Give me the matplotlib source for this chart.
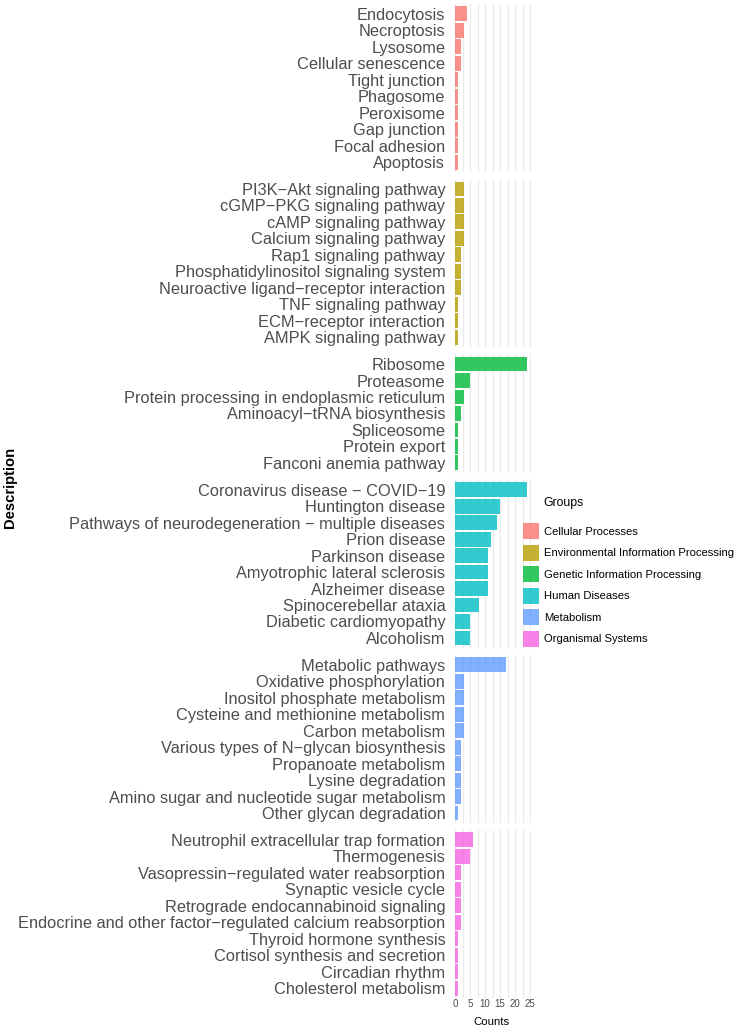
import matplotlib
matplotlib.use('Agg')
import matplotlib.pyplot as plt
from matplotlib.patches import Patch

plt.rcParams['font.family'] = ['Liberation Sans', 'DejaVu Sans']

# --- DATA ---
groups = ['Cellular Processes', 'Environmental Information Processing',
          'Genetic Information Processing', 'Human Diseases',
          'Metabolism', 'Organismal Systems']

cellular_terms = ['Endocytosis', 'Necroptosis', 'Lysosome', 'Cellular senescence',
                  'Tight junction', 'Phagosome', 'Peroxisome', 'Gap junction',
                  'Focal adhesion', 'Apoptosis']
cellular_counts = [4, 3, 2, 2, 1, 1, 1, 1, 1, 1]

environmental_terms = ['PI3K\u2212Akt signaling pathway', 'cGMP\u2212PKG signaling pathway',
                       'cAMP signaling pathway', 'Calcium signaling pathway',
                       'Rap1 signaling pathway', 'Phosphatidylinositol signaling system',
                       'Neuroactive ligand\u2212receptor interaction', 'TNF signaling pathway',
                       'ECM\u2212receptor interaction', 'AMPK signaling pathway']
environmental_counts = [3, 3, 3, 3, 2, 2, 2, 1, 1, 1]

genetic_terms = ['Ribosome', 'Proteasome', 'Protein processing in endoplasmic reticulum',
                 'Aminoacyl\u2212tRNA biosynthesis', 'Spliceosome', 'Protein export',
                 'Fanconi anemia pathway']
genetic_counts = [24, 5, 3, 2, 1, 1, 1]

human_terms = ['Coronavirus disease \u2212 COVID\u221219', 'Huntington disease',
               'Pathways of neurodegeneration \u2212 multiple diseases', 'Prion disease',
               'Parkinson disease', 'Amyotrophic lateral sclerosis', 'Alzheimer disease',
               'Spinocerebellar ataxia', 'Diabetic cardiomyopathy', 'Alcoholism']
human_counts = [24, 15, 14, 12, 11, 11, 11, 8, 5, 5]

metabolism_terms = ['Metabolic pathways', 'Oxidative phosphorylation',
                    'Inositol phosphate metabolism', 'Cysteine and methionine metabolism',
                    'Carbon metabolism', 'Various types of N\u2212glycan biosynthesis',
                    'Propanoate metabolism', 'Lysine degradation',
                    'Amino sugar and nucleotide sugar metabolism', 'Other glycan degradation']
metabolism_counts = [17, 3, 3, 3, 3, 2, 2, 2, 2, 1]

organismal_terms = ['Neutrophil extracellular trap formation', 'Thermogenesis',
                    'Vasopressin\u2212regulated water reabsorption', 'Synaptic vesicle cycle',
                    'Retrograde endocannabinoid signaling',
                    'Endocrine and other factor\u2212regulated calcium reabsorption',
                    'Thyroid hormone synthesis', 'Cortisol synthesis and secretion',
                    'Circadian rhythm', 'Cholesterol metabolism']
organismal_counts = [6, 5, 2, 2, 2, 2, 1, 1, 1, 1]

all_terms = [cellular_terms, environmental_terms, genetic_terms,
             human_terms, metabolism_terms, organismal_terms]
all_counts = [cellular_counts, environmental_counts, genetic_counts,
              human_counts, metabolism_counts, organismal_counts]

colors = ['#F8766D', '#B79F00', '#00BA38', '#00BFC4', '#619CFF', '#F564E3']
x_ticks = [0, 5, 10, 15, 20, 25]

# --- LAYOUT (pixels) ---
W, H = 738, 1032
left_px, right_px = 451.4, 530.6
top_px, bottom_px = 4, 998
gap_px = 7
units = [len(t) + 0.2 for t in all_terms]
unit_px = (bottom_px - top_px - gap_px * (len(units) - 1)) / sum(units)

fig = plt.figure(figsize=(W / 100, H / 100), dpi=100)

y_px = top_px
axes = []
for terms, counts, col, u in zip(all_terms, all_counts, colors, units):
    h_px = u * unit_px
    ax = fig.add_axes([left_px / W, 1 - (y_px + h_px) / H,
                       (right_px - left_px) / W, h_px / H])
    y_px += h_px + gap_px
    pos = list(range(len(terms)))
    ax.barh(pos, counts, height=0.9, color=col, alpha=0.8, zorder=2)
    ax.set_ylim(len(terms) - 0.4, -0.6)
    ax.set_xlim(-1.2, 25.2)
    ax.set_yticks(pos)
    ax.set_yticklabels(terms, fontsize=11.75, color='#4D4D4D')
    ax.set_xticks(x_ticks)
    ax.set_xticks([2.5, 7.5, 12.5, 17.5, 22.5], minor=True)
    ax.grid(axis='x', which='both', color='#EBEBEB', linewidth=0.9, zorder=0)
    ax.tick_params(axis='both', which='both', length=0)
    ax.tick_params(axis='y', pad=4.4)
    ax.tick_params(axis='x', labelbottom=False)
    for s in ax.spines.values():
        s.set_visible(False)
    axes.append(ax)

axes[-1].tick_params(axis='x', labelbottom=True, labelsize=7, labelcolor='#4D4D4D', pad=0.5)
axes[-1].set_xlabel('Counts', fontsize=8.2, labelpad=6)

fig.text(10 / W, 1 - 487 / H, 'Description', rotation=90, fontsize=10.6,
         fontweight='bold', ha='center', va='center')

# legend: title placed on its own, keys below
fig.text(543 / W, 1 - 503 / H, 'Groups', fontsize=8.8, ha='left', va='center')
handles = [Patch(facecolor=c, alpha=0.8, edgecolor='none') for c in colors]
leg = fig.legend(handles, groups, loc='upper left',
                 bbox_to_anchor=(513 / W, 1 - 513 / H), frameon=False,
                 fontsize=8.1, handlelength=1.42, handleheight=1.81,
                 handletextpad=0.44, labelspacing=0.49)

fig.savefig('out.png', dpi=100)
